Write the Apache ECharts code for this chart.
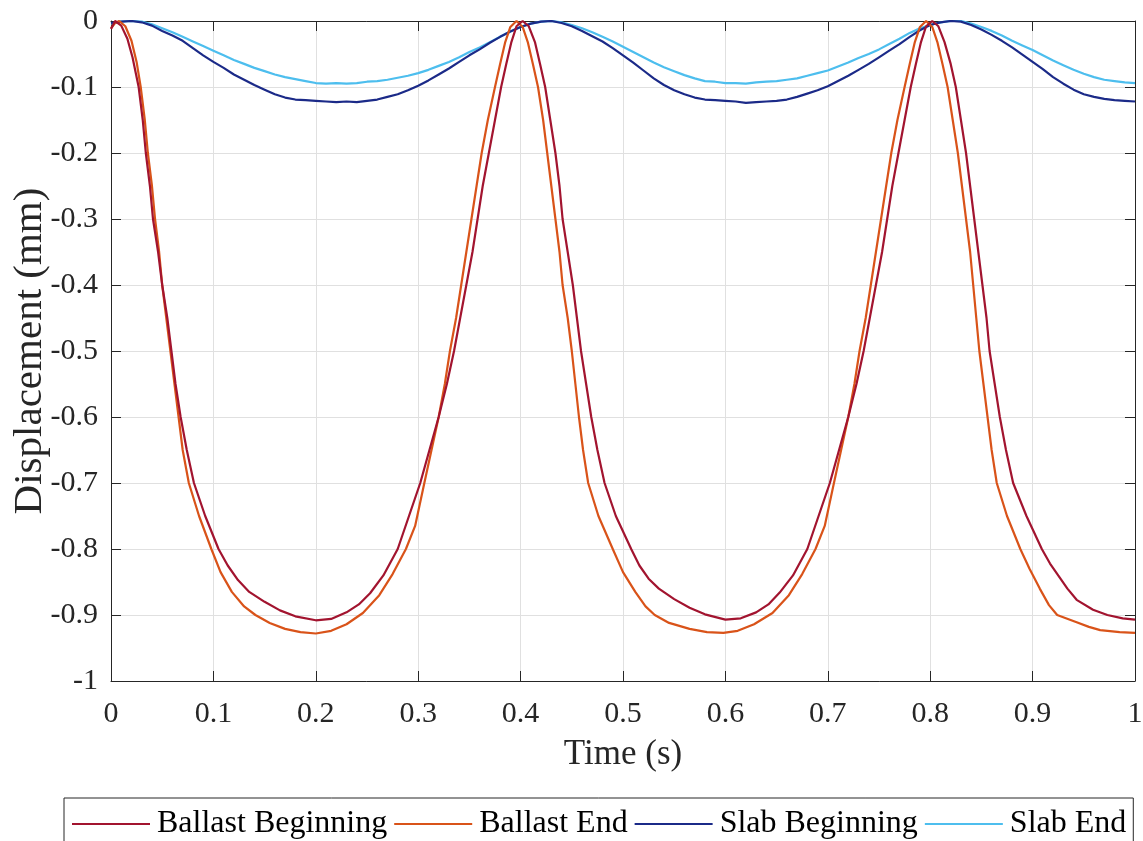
<!DOCTYPE html>
<html>
<head>
<meta charset="utf-8">
<script src="https://cdn.jsdelivr.net/npm/echarts@6/dist/echarts.min.js"></script>
<style>
html,body{margin:0;padding:0;background:#fff;}
#chart{width:1143px;height:841px;}
</style>
</head>
<body>
<div id="chart"></div>
<script>
// ---- data ----
var seriesNames = ['Ballast Beginning', 'Ballast End', 'Slab Beginning', 'Slab End'];
var seriesColors = ['#A2142F', '#D95319', '#1B2A88', '#4DBEEE'];

var xTickLabels = ['0','0.1','0.2','0.3','0.4','0.5','0.6','0.7','0.8','0.9','1'];
var yTickLabels = ['-1','-0.9','-0.8','-0.7','-0.6','-0.5','-0.4','-0.3','-0.2','-0.1','0'];

var tBallastBeg = [0.000,0.004,0.010,0.016,0.021,0.027,0.031,0.034,0.038,0.041,0.046,0.050,0.055,0.059,0.063,0.068,0.074,0.081,0.092,0.105,0.114,0.124,0.135,0.150,0.165,0.180,0.200,0.215,0.230,0.242,0.253,0.266,0.280,0.291,0.302,0.311,0.320,0.328,0.335,0.341,0.347,0.353,0.358,0.363,0.369,0.375,0.381,0.386,0.391,0.396,
  0.402,0.408,0.414,0.419,0.424,0.429,0.434,0.438,0.441,0.446,0.451,0.455,0.459,0.464,0.469,0.475,0.482,0.493,0.508,0.516,0.525,0.535,0.550,0.565,0.580,0.600,0.615,0.630,0.642,0.653,0.666,0.680,0.691,0.702,0.711,0.720,0.728,0.735,0.741,0.747,0.753,0.758,0.763,0.769,0.775,0.781,0.786,0.791,0.796,
  0.802,0.808,0.814,0.820,0.825,0.830,0.835,0.839,0.843,0.847,0.851,0.855,0.858,0.863,0.868,0.874,0.881,0.894,0.909,0.917,0.925,0.934,0.943,0.959,0.973,0.988,1.000];
var vBallastBeg = [-0.012,0.000,-0.007,-0.027,-0.055,-0.100,-0.150,-0.200,-0.250,-0.300,-0.350,-0.400,-0.450,-0.500,-0.550,-0.600,-0.650,-0.700,-0.750,-0.800,-0.825,-0.847,-0.865,-0.880,-0.893,-0.902,-0.908,-0.906,-0.896,-0.884,-0.867,-0.840,-0.800,-0.750,-0.700,-0.650,-0.600,-0.550,-0.500,-0.450,-0.400,-0.350,-0.300,-0.250,-0.200,-0.150,-0.100,-0.065,-0.032,-0.008,
  0.000,-0.008,-0.032,-0.065,-0.100,-0.150,-0.200,-0.250,-0.300,-0.350,-0.400,-0.450,-0.500,-0.550,-0.600,-0.650,-0.700,-0.750,-0.800,-0.825,-0.845,-0.860,-0.876,-0.889,-0.899,-0.907,-0.905,-0.896,-0.884,-0.866,-0.840,-0.800,-0.750,-0.700,-0.650,-0.600,-0.550,-0.500,-0.450,-0.400,-0.350,-0.300,-0.250,-0.200,-0.150,-0.100,-0.065,-0.032,-0.008,
  0.000,-0.008,-0.032,-0.065,-0.100,-0.150,-0.200,-0.250,-0.300,-0.350,-0.400,-0.450,-0.500,-0.550,-0.600,-0.650,-0.700,-0.750,-0.800,-0.822,-0.840,-0.860,-0.877,-0.892,-0.900,-0.905,-0.907];

var tBallastEnd = [0.000,0.004,0.008,0.014,0.020,0.025,0.029,0.033,0.036,0.040,0.043,0.047,0.050,0.054,0.058,0.062,0.066,0.070,0.076,0.086,0.098,0.107,0.118,0.130,0.141,0.155,0.170,0.185,0.200,0.215,0.230,0.246,0.262,0.275,0.288,0.297,0.306,0.313,0.320,0.326,0.331,0.337,0.342,0.347,0.352,0.357,0.362,0.368,0.375,0.380,0.385,0.390,
  0.396,0.402,0.407,0.412,0.417,0.422,0.426,0.430,0.434,0.438,0.441,0.446,0.450,0.4535,0.457,0.461,0.466,0.476,0.490,0.500,0.512,0.522,0.531,0.545,0.565,0.582,0.598,0.612,0.628,0.646,0.662,0.675,0.688,0.697,0.706,0.713,0.720,0.726,0.731,0.737,0.742,0.747,0.752,0.757,0.762,0.768,0.775,0.780,0.785,0.790,
  0.796,0.802,0.807,0.812,0.817,0.822,0.827,0.831,0.835,0.839,0.842,0.845,0.848,0.852,0.856,0.860,0.865,0.875,0.888,0.897,0.907,0.916,0.924,0.943,0.955,0.966,0.985,1.000];
var vBallastEnd = [-0.011,-0.003,0.000,-0.008,-0.030,-0.062,-0.100,-0.150,-0.200,-0.250,-0.300,-0.350,-0.400,-0.450,-0.500,-0.550,-0.600,-0.650,-0.700,-0.750,-0.800,-0.835,-0.865,-0.887,-0.900,-0.912,-0.921,-0.926,-0.928,-0.924,-0.914,-0.897,-0.870,-0.838,-0.800,-0.765,-0.700,-0.650,-0.600,-0.550,-0.500,-0.450,-0.400,-0.350,-0.300,-0.250,-0.200,-0.150,-0.100,-0.065,-0.032,-0.009,
  0.000,-0.009,-0.032,-0.065,-0.100,-0.150,-0.200,-0.250,-0.300,-0.350,-0.400,-0.450,-0.500,-0.550,-0.600,-0.650,-0.700,-0.750,-0.800,-0.835,-0.865,-0.887,-0.900,-0.912,-0.921,-0.926,-0.927,-0.924,-0.914,-0.897,-0.870,-0.838,-0.800,-0.765,-0.700,-0.650,-0.600,-0.550,-0.500,-0.450,-0.400,-0.350,-0.300,-0.250,-0.200,-0.150,-0.100,-0.065,-0.032,-0.009,
  0.000,-0.009,-0.032,-0.065,-0.100,-0.150,-0.200,-0.250,-0.300,-0.350,-0.400,-0.450,-0.500,-0.550,-0.600,-0.650,-0.700,-0.750,-0.800,-0.830,-0.860,-0.885,-0.900,-0.911,-0.918,-0.923,-0.926,-0.927];

var tSlab = [0.00,0.01,0.02,0.03,0.04,0.05,0.06,0.07,0.08,0.09,0.10,0.11,0.12,0.13,0.14,0.15,0.16,0.17,0.18,0.19,0.20,0.21,0.22,0.23,0.24,0.25,0.26,0.27,0.28,0.29,0.30,0.31,0.32,0.33,0.34,0.35,0.36,0.37,0.38,0.39,0.40,0.41,0.42,0.43,0.44,0.45,0.46,0.47,0.48,0.49,0.50,
  0.51,0.52,0.53,0.54,0.55,0.56,0.57,0.58,0.59,0.60,0.61,0.62,0.63,0.64,0.65,0.66,0.67,0.68,0.69,0.70,0.71,0.72,0.73,0.74,0.75,0.76,0.77,0.78,0.79,0.80,0.81,0.82,0.83,0.84,0.85,0.86,0.87,0.88,0.89,0.90,0.91,0.92,0.93,0.94,0.95,0.96,0.97,0.98,0.99,1.00];
var vSlabBeg = [-0.003,-0.001,0.000,-0.002,-0.007,-0.015,-0.022,-0.030,-0.041,-0.052,-0.062,-0.071,-0.081,-0.089,-0.097,-0.104,-0.111,-0.116,-0.119,-0.120,-0.121,-0.122,-0.123,-0.122,-0.123,-0.121,-0.119,-0.115,-0.111,-0.105,-0.098,-0.090,-0.081,-0.072,-0.062,-0.052,-0.043,-0.033,-0.024,-0.016,-0.009,-0.004,-0.001,0.000,-0.003,-0.008,-0.015,-0.023,-0.031,-0.041,-0.052,
  -0.063,-0.075,-0.087,-0.097,-0.105,-0.111,-0.116,-0.119,-0.120,-0.121,-0.122,-0.124,-0.123,-0.122,-0.121,-0.119,-0.115,-0.110,-0.105,-0.099,-0.091,-0.083,-0.074,-0.065,-0.055,-0.045,-0.035,-0.024,-0.014,-0.006,-0.002,0.000,-0.001,-0.006,-0.013,-0.021,-0.030,-0.040,-0.051,-0.062,-0.073,-0.085,-0.095,-0.104,-0.111,-0.115,-0.118,-0.120,-0.121,-0.122];
var vSlabEnd = [-0.004,-0.001,0.000,-0.001,-0.005,-0.011,-0.017,-0.024,-0.031,-0.038,-0.045,-0.052,-0.059,-0.065,-0.071,-0.076,-0.081,-0.085,-0.088,-0.091,-0.094,-0.095,-0.094,-0.095,-0.094,-0.092,-0.091,-0.089,-0.086,-0.083,-0.079,-0.074,-0.068,-0.062,-0.055,-0.047,-0.040,-0.032,-0.024,-0.016,-0.009,-0.004,-0.001,0.000,-0.002,-0.006,-0.011,-0.017,-0.024,-0.031,-0.039,
  -0.047,-0.055,-0.063,-0.070,-0.076,-0.082,-0.087,-0.091,-0.092,-0.094,-0.094,-0.095,-0.093,-0.092,-0.091,-0.089,-0.087,-0.083,-0.079,-0.075,-0.069,-0.063,-0.056,-0.050,-0.043,-0.035,-0.027,-0.018,-0.011,-0.006,-0.002,0.000,0.000,-0.004,-0.009,-0.015,-0.022,-0.030,-0.037,-0.044,-0.052,-0.060,-0.067,-0.074,-0.080,-0.085,-0.089,-0.091,-0.093,-0.094];

// ---- chart ----
function pairs(t, v){ return t.map(function(x,i){ return [x, v[i]]; }); }
var allT = [tBallastBeg, tBallastEnd, tSlab, tSlab];
var allV = [vBallastBeg, vBallastEnd, vSlabBeg, vSlabEnd];

var FONT = '"Liberation Serif", "Times New Roman", serif';
var AX = '#262626';
var GRIDC = '#e0e0e0';

function xLab(v){ return xTickLabels[Math.round(v*10)]; }
function yLab(v){ return yTickLabels[Math.round((v+1)*10)]; }

var chart = echarts.init(document.getElementById('chart'), null, {renderer:'canvas'});
var option = {
  animation: false,
  backgroundColor: '#ffffff',
  grid: {left: 111, right: 8, top: 21, bottom: 160, containLabel: false, outerBoundsMode: 'none'},
  xAxis: [{
    type: 'value', min: 0, max: 1, interval: 0.1,
    name: 'Time (s)', nameLocation: 'middle', nameGap: 56, nameMoveOverlap: false,
    nameTextStyle: {fontFamily: FONT, fontSize: 35, color: AX},
    axisLine: {show: true, onZero: false, lineStyle: {color: AX, width: 1}},
    axisTick: {show: true, inside: true, length: 10, lineStyle: {color: AX}},
    axisLabel: {fontFamily: FONT, fontSize: 30, color: AX, margin: 18, formatter: xLab},
    splitLine: {show: true, lineStyle: {color: GRIDC, width: 1}}
  }, {
    type: 'value', min: 0, max: 1, interval: 0.1, position: 'top',
    axisLine: {show: true, onZero: false, lineStyle: {color: AX, width: 1}},
    axisTick: {show: true, inside: true, length: 10, lineStyle: {color: AX}},
    axisLabel: {show: false}, splitLine: {show: false}
  }],
  yAxis: [{
    type: 'value', min: -1, max: 0, interval: 0.1,
    name: 'Displacement (mm)', nameLocation: 'middle', nameGap: 60, nameMoveOverlap: false,
    nameTextStyle: {fontFamily: FONT, fontSize: 41, color: AX},
    axisLine: {show: true, onZero: false, lineStyle: {color: AX, width: 1}},
    axisTick: {show: true, inside: true, length: 10, lineStyle: {color: AX}},
    axisLabel: {fontFamily: FONT, fontSize: 30, color: AX, margin: 13, formatter: yLab},
    splitLine: {show: true, lineStyle: {color: GRIDC, width: 1}}
  }, {
    type: 'value', min: -1, max: 0, interval: 0.1, position: 'right',
    axisLine: {show: true, onZero: false, lineStyle: {color: AX, width: 1}},
    axisTick: {show: true, inside: true, length: 10, lineStyle: {color: AX}},
    axisLabel: {show: false}, splitLine: {show: false}
  }],
  legend: {
    left: 64, top: 798,
    orient: 'horizontal',
    itemWidth: 78, itemHeight: 2, itemGap: 7,
    icon: 'rect',
    padding: [10, 7, 8, 8],
    borderColor: AX, borderWidth: 1, backgroundColor: '#fff', borderRadius: 0,
    textStyle: {fontFamily: FONT, fontSize: 32, color: '#000', padding: [0, 0, 0, 2]},
    data: seriesNames
  },
  series: seriesNames.map(function(n, i){
    return {
      name: n, type: 'line', xAxisIndex: 0, yAxisIndex: 0,
      data: pairs(allT[i], allV[i]),
      showSymbol: false, symbol: 'none',
      smooth: false,
      lineStyle: {color: seriesColors[i], width: 2.2},
      itemStyle: {color: seriesColors[i]},
      z: 10 - i
    };
  })
};
chart.setOption(option);
</script>
</body>
</html>
